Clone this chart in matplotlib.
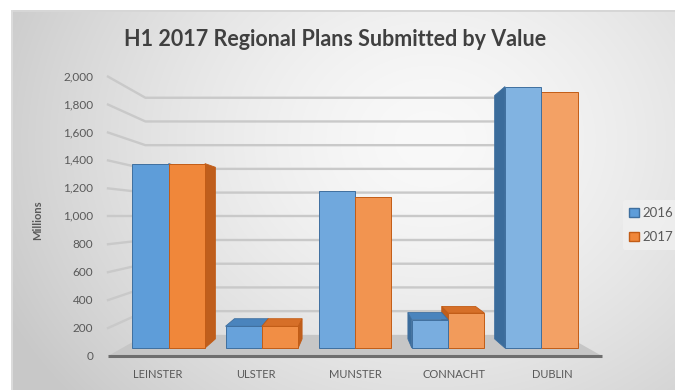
import numpy as np
import matplotlib.pyplot as plt
from matplotlib.patches import Polygon, Patch
from matplotlib.colors import to_rgb

plt.rcParams['font.family'] = ['Lato', 'DejaVu Sans']

# ---- data -------------------------------------------------------------
regions = ["LEINSTER", "ULSTER", "MUNSTER", "CONNACHT", "DUBLIN"]
series_names = ["2016", "2017"]
values_2016 = [1400, 165, 1190, 215, 1985]
values_2017 = [1400, 165, 1150, 265, 1940]
y_ticks = list(range(0, 2001, 200))
y_tick_labels = [f"{v:,}" for v in y_ticks]
title = "H1 2017 Regional Plans Submitted by Value"
y_label = "Millions"

# ---- figure / background ---------------------------------------------
W, H = 675, 390
fig = plt.figure(figsize=(W / 100, H / 100), dpi=100)

bg = fig.add_axes([0, 0, 1, 1])
yy, xx = np.mgrid[0:H, 0:W]
dist = np.hypot(xx - 430, (yy - 140) * 1.2)
shade = 249 - 42 * (dist / 430) ** 1.5
shade = np.clip(shade, 200, 250) / 255.0
img = np.dstack([shade] * 3)
# white margin outside the chart area plus a soft border
img[:10, :, :] = 1.0
img[:, :11, :] = 1.0
img[10:12, 11:, :] = 0.84
img[10:, 11:13, :] = 0.86
bg.imshow(img, extent=(0, W, H, 0), aspect='auto', interpolation='bilinear')
bg.set_xlim(0, W)
bg.set_ylim(H, 0)
bg.axis('off')

# main axes: x in category units, y in value units (front plane)
ax = fig.add_axes([0, 0, 1, 1])
ax.patch.set_alpha(0)
x_px0, x_scale = 108.0, 98.8        # px of category 0 edge, px per category
y_px0, y_scale = 356.0, 0.1397      # px of value 0, px per unit value
ax.set_xlim(-x_px0 / x_scale, (W - x_px0) / x_scale)
ax.set_ylim((y_px0 - H) / y_scale, y_px0 / y_scale)
ax.axis('off')

# ---- simple perspective projection -----------------------------------
n_cat = len(regions)
VX, VY, K = n_cat / 2.0, 1000.0, 0.1784


def proj(x, v, d):
    s = 1.0 / (1.0 + K * d)
    return (VX + (x - VX) * s, VY + (v - VY) * s)


def poly(points, **kw):
    ax.add_patch(Polygon([proj(*p) for p in points], closed=True, **kw))


# floor
poly([(0, 0, 0), (n_cat, 0, 0), (n_cat, 0, 1), (0, 0, 1)],
     facecolor='#c6c6c6', edgecolor='none', zorder=1)
fx0, fy0 = proj(0, 0, 0)
fx1, fy1 = proj(n_cat, 0, 0)
ax.plot([fx0, fx1], [fy0, fy1], color='#6e6e6e', lw=2.2,
        solid_capstyle='butt', zorder=2)

# gridlines on side wall and back wall
for v in y_ticks[1:]:
    pts = [proj(0, v, 0), proj(0, v, 1), proj(n_cat, v, 1)]
    ax.plot([p[0] for p in pts], [p[1] for p in pts], color='#c9c9c9',
            lw=1.7, zorder=1.5, solid_joinstyle='miter')

# ---- bars -------------------------------------------------------------
def mix(c, t, target=(1, 1, 1)):
    c = np.array(to_rgb(c))
    return tuple(c + (np.array(target) - c) * t)


palette = {
    "2016": dict(front='#5e9dd9', side='#3b6c9b', top='#4a84bd', edge='#3f6f9f'),
    "2017": dict(front='#f0873a', side='#bf5e1c', top='#d66f28', edge='#c25c16'),
}
bar_w = 0.39
d0, d1 = 0.34, 0.78


def draw_bar(xa, xb, v, col, light):
    front = mix(col['front'], light)
    # side face facing the viewer
    if xa > VX:
        poly([(xa, 0, d0), (xa, 0, d1), (xa, v, d1), (xa, v, d0)],
             facecolor=col['side'], edgecolor=col['edge'], lw=0.6, zorder=3)
    elif xb < VX:
        poly([(xb, 0, d0), (xb, 0, d1), (xb, v, d1), (xb, v, d0)],
             facecolor=col['side'], edgecolor=col['edge'], lw=0.6, zorder=3)
    # top face when below eye level
    if v < VY:
        poly([(xa, v, d0), (xb, v, d0), (xb, v, d1), (xa, v, d1)],
             facecolor=col['top'], edgecolor=col['edge'], lw=0.6, zorder=3)
    poly([(xa, 0, d0), (xb, 0, d0), (xb, v, d0), (xa, v, d0)],
         facecolor=front, edgecolor=col['edge'], lw=0.7, zorder=3)


for i in range(n_cat):
    c = i + 0.5
    light = 0.22 * i / (n_cat - 1)
    bars = [(c - bar_w, c, values_2016[i], palette["2016"]),
            (c, c + bar_w, values_2017[i], palette["2017"])]
    # paint the bar farther from the eye line first
    bars.sort(key=lambda b: -abs((b[0] + b[1]) / 2 - VX))
    for xa, xb, v, col in bars:
        draw_bar(xa, xb, v, col, light)

# ---- text -------------------------------------------------------------
txt = '#595959'
for v, lab in zip(y_ticks, y_tick_labels):
    ax.text(-0.15, v, lab, ha='right', va='center', fontsize=8.5, color=txt)

for i, name in enumerate(regions):
    ax.text(i + 0.5, -129, name, ha='center', va='center', fontsize=8,
            color=txt)

ax.text(-0.71, 975, y_label, rotation=90, ha='center', va='center',
        fontsize=8, fontweight='bold', color=txt)

ax.text(2.30, 2262, title, ha='center', va='center', fontsize=15.5,
        fontweight='bold', color='#404040')

handles = [Patch(facecolor=palette[s]['front'], edgecolor=palette[s]['edge'],
                 label=s) for s in series_names]
leg = fig.legend(handles=handles, loc='center', bbox_to_anchor=(0.965, 0.423),
                 frameon=True, fontsize=9.5, handlelength=0.75,
                 handleheight=0.75, handletextpad=0.25, labelspacing=0.9,
                 borderpad=0.5, labelcolor=txt)
leg.get_frame().set_facecolor('#efefef')
leg.get_frame().set_edgecolor('none')
leg.get_frame().set_alpha(0.9)

fig.savefig('out.png', dpi=100)
